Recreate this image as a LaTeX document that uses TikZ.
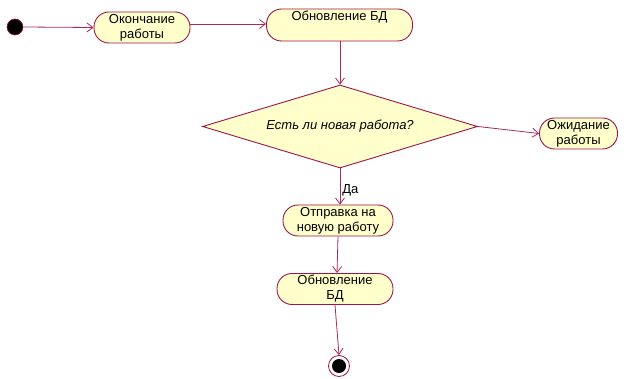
\documentclass[tikz,border=0pt]{standalone}
\usepackage{fontspec}
\setmainfont{Liberation Sans}
\usetikzlibrary{arrows.meta,shapes.geometric}
\definecolor{actfill}{RGB}{255,255,204}
\definecolor{actline}{RGB}{160,20,70}
\definecolor{flowline}{RGB}{170,40,90}
\tikzset{
  activity/.style={draw=actline, fill=actfill, line width=0.9pt,
    rounded corners=15pt, minimum height=31pt, inner sep=0pt,
    align=center, font=\fontsize{13pt}{15pt}\selectfont},
  decision/.style={draw=actline, fill=actfill, line width=0.9pt, diamond,
    inner sep=0pt, aspect=3.4, minimum width=275pt, minimum height=83pt,
    font=\fontsize{13pt}{15pt}\selectfont\itshape},
  flow/.style={draw=flowline, line width=0.8pt,
    -{Straight Barb[length=6pt,width=9pt,line width=0.8pt]}}
}
\begin{document}
\begin{tikzpicture}[x=1pt,y=-1pt]
  \useasboundingbox (0,0) rectangle (631,379);
  % start / end markers
  \node[circle, fill=black, draw=actline, line width=0.6pt, minimum size=16pt, inner sep=0pt] (start) at (15,27) {};
  \node[circle, draw=actline, fill=white, line width=0.8pt, minimum size=21pt, inner sep=0pt] (finish) at (339,366) {};
  \node[circle, fill=black, minimum size=14pt, inner sep=0pt] (finishdot) at (339,366) {};
  % activities
  \node[activity, minimum width=96pt] (done) at (142,27.5) {Окончание\\работы};
  \node[activity, minimum width=146pt, minimum height=32pt] (db1) at (339.5,25) {Обновление БД\\\strut};
  \node[decision] (check) at (340,126.5) {Есть ли новая работа?};
  \node[activity, minimum width=78pt] (wait) at (578.5,133.5) {Ожидание\\работы};
  \node[activity, minimum width=110pt] (send) at (338,220.5) {Отправка на\\новую работу};
  \node[activity, minimum width=116pt] (db2) at (335,289) {Обновление\\БД};
  % transitions
  \draw[flow] (start.east) -- (done.west);
  \draw[flow] (done.east |- 0,24) -- (db1.west |- 0,24);
  \draw[flow] (db1.south -| 340,0) -- (check.north);
  \draw[flow] (check.east) -- (wait.west);
  \draw[flow] (check.south) -- node[right, pos=0.6, inner sep=2pt, font=\fontsize{13pt}{15pt}\selectfont] (yes) {Да} (send.north -| check.south);
  \draw[flow] (send.south) -- (db2.north -| 337,0);
  \draw[flow] (db2.south) -- (finish.north);
\end{tikzpicture}
\end{document}
